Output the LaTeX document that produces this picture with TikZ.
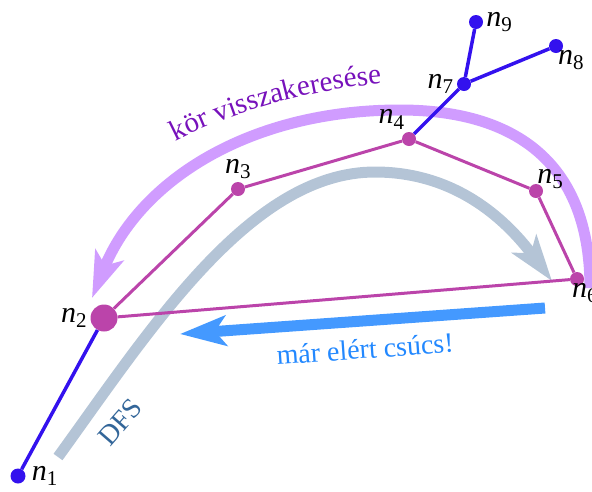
\documentclass[tikz,border=0pt]{standalone}
\usepackage{fontspec}
\setmainfont{Liberation Serif}
\usetikzlibrary{arrows.meta,decorations.text}

\definecolor{nblue}{RGB}{51,17,238}
\definecolor{nmag}{RGB}{187,68,170}
\definecolor{lav}{RGB}{208,156,255}
\definecolor{dfsgray}{RGB}{180,196,214}
\definecolor{skyarrow}{RGB}{68,153,255}
\definecolor{kortext}{RGB}{119,17,187}
\definecolor{dfstext}{RGB}{51,102,153}
\definecolor{martext}{RGB}{34,136,255}
\newcommand{\nn}[1]{\textit{n}\textsubscript{#1}}

\begin{document}
\begin{tikzpicture}[x=1pt,y=-1pt,
bv/.style={circle,fill=nblue,inner sep=0pt,minimum size=15pt},
mv/.style={circle,fill=nmag,inner sep=0pt,minimum size=14pt},
lbl/.style={font=\fontsize{30}{32}\selectfont,inner sep=1pt,label distance=2pt},
be/.style={draw=nblue,line width=3.5pt},
me/.style={draw=nmag,line width=3pt},
fat/.style={line width=11pt,-{Stealth[length=46pt,width=30pt,inset=11pt]}}]
\useasboundingbox (0,0) rectangle (592,491);

% big arrows in the background
\coordinate (ls) at (590,288);
\coordinate (lt) at (92,298);
\coordinate (gs) at (58,457);
\coordinate (gt) at (552,281);
\draw[fat,lav] (ls) .. controls (590,150) and (500,110) .. (400,110)
  .. controls (250,110) and (140,180) .. (lt);
\draw[fat,dfsgray] (gs) .. controls (150,330) and (250,172) .. (375,172)
  .. controls (460,172) and (510,225) .. (gt);
\coordinate (ms) at (545,308);
\coordinate (mt) at (180,334);
\draw[fat,skyarrow] (ms) -- (mt);

% the graph
\node[bv,label={[lbl,label distance=5pt]0:\nn1}] (n1) at (18,476) {};
\node[mv,minimum size=27pt,label={[lbl]180:\nn2}] (n2) at (104,318) {};
\node[mv,label={[lbl]90:\nn3}] (n3) at (238,189) {};
\node[mv,label={[lbl]110:\nn4}] (n4) at (409,139) {};
\node[mv,label={[lbl,label distance=-6pt]80:\nn5}] (n5) at (536,191) {};
\node[mv,label={[lbl,xshift=8pt,label distance=-4pt]-90:\nn6}] (n6) at (577,279) {};
\node[bv,minimum size=14pt,label={[lbl]180:\nn7}] (n7) at (464,84) {};
\node[bv,minimum size=14pt,label={[lbl,label distance=-4pt]-75:\nn8}] (n8) at (556,46) {};
\node[bv,minimum size=14pt,label={[lbl]0:\nn9}] (n9) at (476,22) {};

\draw[be] (n1)--(n2); \draw[be] (n4)--(n7); \draw[be] (n7)--(n8); \draw[be] (n7)--(n9);
\draw[me] (n2)--(n3)--(n4)--(n5)--(n6)--(n2);

% texts
\path[decorate,decoration={text along path,text align=center,text color=kortext,
  text={|\fontsize{29}{30}\selectfont|kör visszakeresése}}]
  (163,148) .. controls (235,108) and (325,86) .. (396,83);
\node[font=\fontsize{28}{30}\selectfont,text=dfstext,rotate=49] (dfs) at (120,422) {DFS};
\node[font=\fontsize{28}{30}\selectfont,text=martext,rotate=4] (mar) at (365,349) {már elért csúcs!};
\end{tikzpicture}
\end{document}
